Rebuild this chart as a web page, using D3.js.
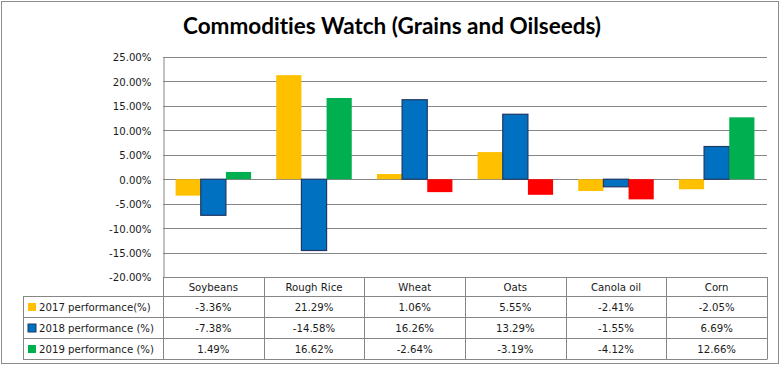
<!DOCTYPE html>
<html><head><meta charset="utf-8">
<script src="https://cdn.jsdelivr.net/npm/d3@7"></script>
<style>
html,body{margin:0;padding:0;background:#fff;}
svg{display:block;}
.lbl{font-family:"DejaVu Sans Condensed","DejaVu Sans",Verdana,sans-serif;font-stretch:condensed;font-size:11.3px;fill:#1a1a1a;}
.title{font-variant-ligatures:none;font-feature-settings:"liga" 0, "clig" 0;}
</style></head>
<body>
<svg id="c" width="782" height="366"></svg>
<script>
const categories = ["Soybeans","Rough Rice","Wheat","Oats","Canola oil","Corn"];
const seriesNames = ["2017 performance(%)","2018 performance (%)","2019 performance (%)"];
const values2017 = [-3.36, 21.29, 1.06, 5.55, -2.41, -2.05];
const values2018 = [-7.38, -14.58, 16.26, 13.29, -1.55, 6.69];
const values2019 = [1.49, 16.62, -2.64, -3.19, -4.12, 12.66];
const yTicks = [25, 20, 15, 10, 5, 0, -5, -10, -15, -20];

const series = [
  {name: seriesNames[0], values: values2017, fill: "#FFC000", neg: "#FFC000", stroke: "none"},
  {name: seriesNames[1], values: values2018, fill: "#0070C0", neg: "#0070C0", stroke: "#1F3864"},
  {name: seriesNames[2], values: values2019, fill: "#00B050", neg: "#FF0000", stroke: "none"}
];

const svg = d3.select("#c");
const W = 782, H = 366;
const plotL = 163, plotR = 767, plotT = 57, plotB = 277;
const tableL = 23;
const rowEdges = [277, 296, 317, 338, 359];
const gridColor = "#868686";

// outer border
svg.append("rect").attr("x",1.5).attr("y",1.5).attr("width",777).attr("height",362)
  .attr("fill","#fff").attr("stroke","#8c8c8c").attr("stroke-width",1);

// title
svg.append("text").attr("class","title").attr("x", 392).attr("y", 34).attr("text-anchor","middle")
  .attr("font-family","Lato, 'Open Sans', sans-serif").attr("font-weight","bold")
  .attr("font-size","22.5px").attr("fill","#000")
  .text("Commodities Watch (Grains and Oilseeds)");

const y = d3.scaleLinear().domain([-20, 25]).range([plotB, plotT]);
const x0 = d3.scaleBand().domain(categories).range([plotL, plotR]).paddingInner(0).paddingOuter(0);
const x1 = d3.scaleBand().domain(d3.range(series.length)).range([0, x0.bandwidth()]).paddingOuter(0.5).paddingInner(0);

// gridlines
svg.append("g").selectAll("line").data(yTicks).join("line")
  .attr("x1", plotL).attr("x2", plotR)
  .attr("y1", d => Math.round(y(d)) + 0.5).attr("y2", d => Math.round(y(d)) + 0.5)
  .attr("stroke", gridColor).attr("stroke-width", 1);

// y axis
const yAxis = d3.axisLeft(y).tickValues(yTicks).tickSize(0).tickPadding(12)
  .tickFormat(d => d.toFixed(2) + "%");
const ga = svg.append("g").attr("transform", `translate(${plotL + 0.5},0)`).call(yAxis);
ga.select(".domain").attr("stroke", gridColor);
ga.selectAll("text").attr("class","lbl").attr("font-family", null).attr("font-size", null)
  .attr("dy","0.35em");

// bars
series.forEach((s, si) => {
  svg.append("g").selectAll("rect").data(s.values).join("rect")
    .attr("x", (d, i) => x0(categories[i]) + x1(si))
    .attr("width", x1.bandwidth())
    .attr("y", d => y(Math.max(0, d)))
    .attr("height", d => Math.abs(y(d) - y(0)))
    .attr("fill", d => d < 0 ? s.neg : s.fill)
    .attr("stroke", s.stroke).attr("stroke-width", s.stroke === "none" ? 0 : 1.2);
});

// table
const tg = svg.append("g");
const colEdges = categories.map(c => x0(c)).concat([plotR]);
tg.append("line").attr("x1", plotL).attr("x2", plotR).attr("y1", rowEdges[0] + 0.5).attr("y2", rowEdges[0] + 0.5).attr("stroke", gridColor);
rowEdges.slice(1).forEach(r => {
  tg.append("line").attr("x1", tableL).attr("x2", plotR).attr("y1", r + 0.5).attr("y2", r + 0.5).attr("stroke", gridColor);
});
colEdges.forEach(cx => {
  tg.append("line").attr("x1", Math.round(cx) + 0.5).attr("x2", Math.round(cx) + 0.5)
    .attr("y1", rowEdges[0]).attr("y2", rowEdges[4] + 0.5).attr("stroke", gridColor);
});
tg.append("line").attr("x1", tableL + 0.5).attr("x2", tableL + 0.5)
  .attr("y1", rowEdges[1]).attr("y2", rowEdges[4] + 0.5).attr("stroke", gridColor);

tg.selectAll("text.hdr").data(categories).join("text").attr("class","lbl hdr")
  .attr("x", c => x0(c) + x0.bandwidth()/2).attr("y", (rowEdges[0] + rowEdges[1])/2 + 1)
  .attr("dy","0.35em").attr("text-anchor","middle").text(c => c);

series.forEach((s, si) => {
  const cy = (rowEdges[si+1] + rowEdges[si+2]) / 2 + 1;
  tg.append("rect").attr("x", 28).attr("y", cy - 4.5).attr("width", 8).attr("height", 8)
    .attr("fill", s.fill).attr("stroke", s.stroke).attr("stroke-width", s.stroke === "none" ? 0 : 1);
  tg.append("text").attr("class","lbl").attr("x", 39).attr("y", cy).attr("dy","0.35em").text(s.name);
  tg.selectAll(null).data(s.values).join("text").attr("class","lbl")
    .attr("x", (d, i) => x0(categories[i]) + x0.bandwidth()/2).attr("y", cy)
    .attr("dy","0.35em").attr("text-anchor","middle").text(d => d.toFixed(2) + "%");
});
</script>
</body></html>
